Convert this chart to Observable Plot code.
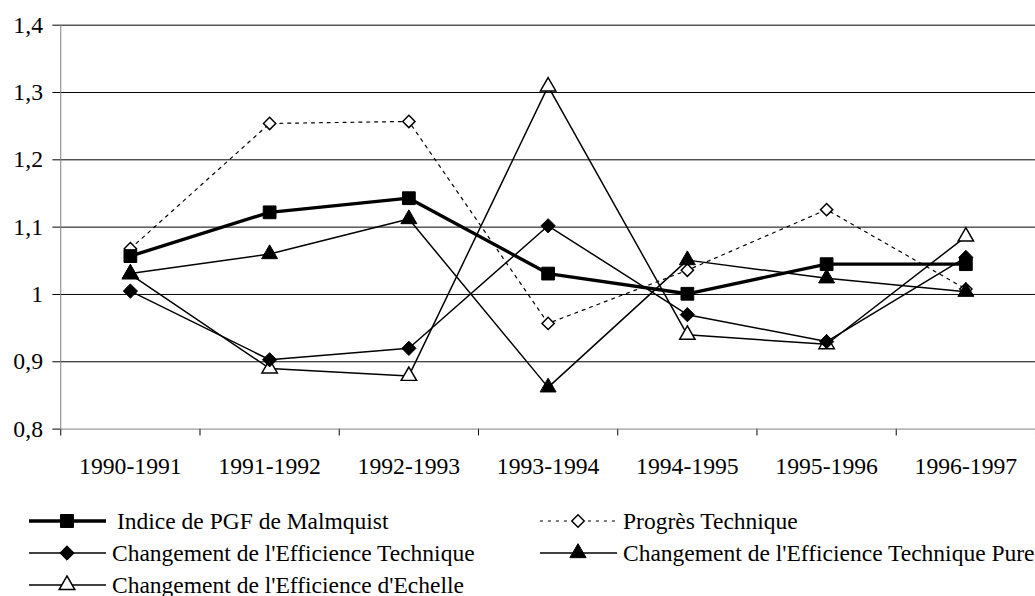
<!DOCTYPE html>
<html>
<head>
<meta charset="utf-8">
<script src="https://cdn.jsdelivr.net/npm/d3@7"></script>
<script src="https://cdn.jsdelivr.net/npm/@observablehq/plot@0.6"></script>
<style>
  html, body { margin: 0; padding: 0; background: #fff; overflow: hidden; }
  #wrap { position: relative; width: 1035px; height: 596px; overflow: hidden; font-family: "Liberation Serif", "DejaVu Serif", "Times New Roman", Times, serif; }
  .item { position: absolute; display: flex; align-items: center; height: 30px; font-size: 23.5px; color: #000; white-space: nowrap; }
  .item svg { flex: none; }
</style>
</head>
<body>
<div id="wrap"><div id="chart"></div><div id="legend"></div></div>
<script>
const categories = ["1990-1991", "1991-1992", "1992-1993", "1993-1994", "1994-1995", "1995-1996", "1996-1997"];
const seriesNames = [
  "Indice de PGF de Malmquist",
  "Progrès Technique",
  "Changement de l'Efficience Technique",
  "Changement de l'Efficience Technique Pure",
  "Changement de l'Efficience d'Echelle"
];
const malmquist  = [1.057, 1.122, 1.143, 1.031, 1.001, 1.045, 1.045];
const progres    = [1.068, 1.254, 1.257, 0.957, 1.036, 1.126, 1.008];
const effTech    = [1.005, 0.903, 0.920, 1.102, 0.970, 0.930, 1.055];
const effPure    = [1.031, 1.060, 1.112, 0.862, 1.051, 1.024, 1.004];
const effEchelle = [1.030, 0.890, 0.879, 1.309, 0.940, 0.926, 1.086];
const yTicks = [0.8, 0.9, 1.0, 1.1, 1.2, 1.3, 1.4];

const values = [malmquist, progres, effTech, effPure, effEchelle];

const FONT = "'Liberation Serif', 'DejaVu Serif', 'Times New Roman', Times, serif";

const styles = [
  {symbol: "square",   r: 7.3, fill: "#000", sw: 3.4, dash: null, msw: 1},
  {symbol: "diamond2", r: 5.6, fill: "#fff", sw: 1.2, dash: "3,5", msw: 1.5},
  {symbol: "diamond2", r: 6.5, fill: "#000", sw: 1.5, dash: null, msw: 1},
  {symbol: "triangle", r: 6.0, fill: "#000", sw: 1.5, dash: null, msw: 1},
  {symbol: "triangle", r: 5.8, fill: "#fff", sw: 1.5, dash: null, msw: 1.5}
];
const drawOrder = [4, 1, 2, 3, 0];

const rowsOf = (k) => categories.map((c, i) => ({cat: c, x: i + 0.5, value: values[k][i]}));

const fmt = d => String(Math.round(d * 10) / 10).replace(".", ",");

const marks = [
  Plot.ruleY(yTicks.slice(1), {stroke: "#000", strokeWidth: 1}),
  Plot.ruleY([yTicks[0]], {stroke: "#808080", strokeWidth: 1}),
  Plot.ruleX([0], {stroke: "#808080", strokeWidth: 1}),
  Plot.text(categories, {x: (d, i) => i + 0.5, frameAnchor: "bottom", dy: 38, textAnchor: "middle", lineAnchor: "middle", fontSize: 24, fontFamily: FONT, fill: "#000"})
];
for (const k of drawOrder) {
  const s = styles[k];
  const rows = rowsOf(k);
  marks.push(Plot.line(rows, {x: "x", y: "value", stroke: "#000", strokeWidth: s.sw, strokeDasharray: s.dash, strokeLinejoin: "miter"}));
  marks.push(Plot.dot(rows, {x: "x", y: "value", symbol: s.symbol, r: s.r, fill: s.fill, stroke: "#000", strokeWidth: s.msw}));
}

const chart = Plot.plot({
  width: 1048,
  height: 490,
  marginTop: 25,
  marginBottom: 56,
  marginLeft: 61,
  marginRight: 0,
  style: {fontFamily: FONT, fontSize: "24px", background: "#fff", color: "#000", overflow: "visible"},
  x: {type: "linear", domain: [0, categories.length], ticks: d3.range(categories.length + 1), tickSize: 7, tickFormat: () => "", label: null},
  y: {domain: [yTicks[0], yTicks[yTicks.length - 1]], ticks: yTicks, tickSize: 8, tickPadding: 10, tickFormat: fmt, label: null},
  marks
});
chart.querySelectorAll("text").forEach(t => t.setAttribute("font-family", FONT));
document.getElementById("chart").appendChild(chart);

// Legend (HTML below the SVG)
const legendOrder = [0, 1, 2, 3, 4];
const legend = document.getElementById("legend");
const colLeft = [29, 540];
legendOrder.forEach((k, j) => {
  const s = styles[k];
  const row = Math.floor(j / 2), col = j % 2;
  const div = document.createElement("div");
  div.className = "item";
  div.style.left = colLeft[col] + "px";
  div.style.top = (521 + row * 32 - 15) + "px";
  const W = 78, H = 30, cx = 38, cy = 15;
  const symObj = {square: d3.symbolSquare, diamond2: d3.symbolDiamond2, triangle: d3.symbolTriangle}[s.symbol];
  const path = d3.symbol(symObj, Math.PI * s.r * s.r)();
  const svg = d3.create("svg").attr("width", W).attr("height", H);
  svg.append("line").attr("x1", 0).attr("x2", W - 1).attr("y1", cy).attr("y2", cy)
    .attr("stroke", "#000").attr("stroke-width", s.sw).attr("stroke-dasharray", s.dash);
  svg.append("path").attr("d", path).attr("transform", `translate(${cx},${cy})`)
    .attr("fill", s.fill).attr("stroke", "#000").attr("stroke-width", s.msw);
  div.appendChild(svg.node());
  const span = document.createElement("span");
  span.textContent = seriesNames[k];
  span.style.marginLeft = (k === 0 ? 10 : 5) + "px";
  div.appendChild(span);
  legend.appendChild(div);
});
</script>
</body>
</html>
